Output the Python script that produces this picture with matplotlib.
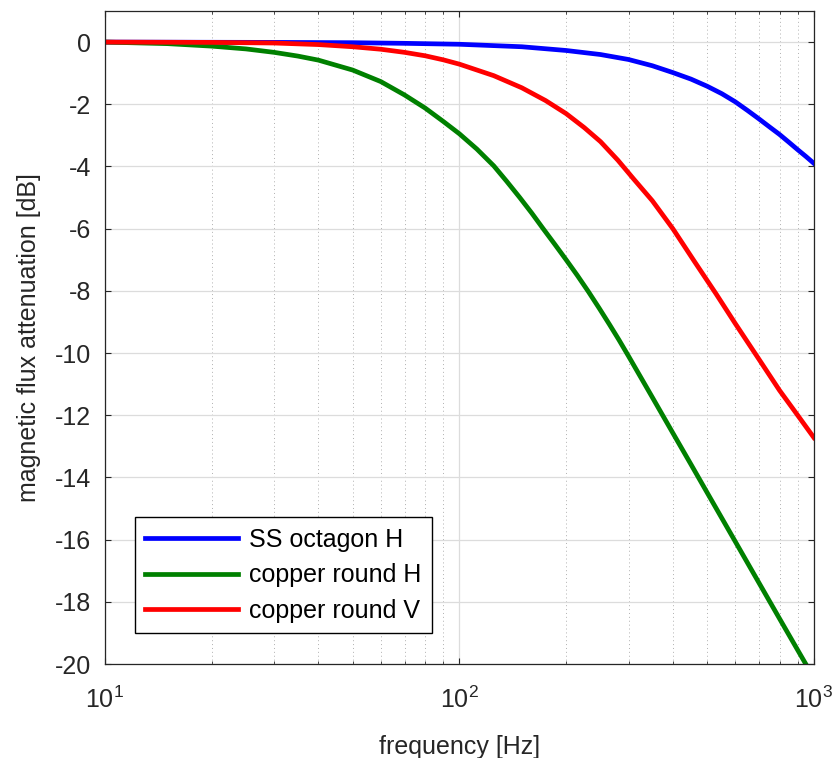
import matplotlib
matplotlib.use("Agg")
import matplotlib.pyplot as plt
from matplotlib.ticker import LogLocator, NullFormatter, FixedLocator

plt.rcParams['font.family'] = ['Liberation Sans', 'DejaVu Sans']
plt.rcParams['mathtext.fontset'] = 'custom'
plt.rcParams['mathtext.rm'] = 'Liberation Sans'
plt.rcParams['mathtext.it'] = 'Liberation Sans'

# values
f_ss = [10, 30, 50, 70, 100, 150, 200, 250, 300, 350, 400, 450, 500, 550, 600, 650, 700, 750, 800, 850, 900, 950, 1000]
ss_octagon_h = [0, -0.01, -0.02, -0.04, -0.07, -0.15, -0.27, -0.4, -0.56, -0.76, -0.98, -1.19, -1.42, -1.66, -1.92,
                -2.2, -2.47, -2.73, -2.97, -3.22, -3.46, -3.68, -3.9]

f_cu_h = [10, 15, 20, 25, 30, 35, 40, 50, 60, 70, 80, 90, 100, 112, 125, 136, 148, 160, 172, 186, 200, 215, 231,
          248, 265, 282, 300, 350, 400, 450, 500, 600, 700, 800, 900, 1000]
copper_round_h = [0, -0.05, -0.13, -0.22, -0.33, -0.45, -0.58, -0.9, -1.27, -1.7, -2.12, -2.55, -2.95, -3.44, -3.98,
                  -4.48, -5.0, -5.5, -5.99, -6.51, -7.0, -7.5, -8.02, -8.56, -9.08, -9.58, -10.1, -11.42, -12.57,
                  -13.58, -14.49, -16.06, -17.39, -18.54, -19.55, -20.45]

f_cu_v = [10, 20, 30, 40, 50, 60, 70, 80, 90, 100, 125, 150, 175, 200, 225, 250, 280, 310, 350, 400, 460, 530,
          600, 700, 800, 900, 1000]
copper_round_v = [0, -0.01, -0.03, -0.08, -0.15, -0.23, -0.33, -0.44, -0.57, -0.71, -1.08, -1.47, -1.88, -2.3, -2.75,
                  -3.2, -3.8, -4.4, -5.1, -6.0, -7.05, -8.1, -9.05, -10.2, -11.2, -12.0, -12.72]

labels = ['SS octagon H', 'copper round H', 'copper round V']
colors = ['#0000ff', '#008000', '#ff0000']
y_ticks = list(range(-20, 1, 2))

fig = plt.figure(figsize=(8.35, 7.58), dpi=100)
ax = fig.add_axes([0.1257, 0.124, 0.849, 0.8615])

ax.plot(f_ss, ss_octagon_h, color=colors[0], lw=3.4, label=labels[0])
ax.plot(f_cu_h, copper_round_h, color=colors[1], lw=3.4, label=labels[1])
ax.plot(f_cu_v, copper_round_v, color=colors[2], lw=3.4, label=labels[2])

ax.set_xscale('log')
ax.set_xlim(10, 1000)
ax.set_ylim(-20, 1)
ax.set_yticks(y_ticks)
ax.set_yticklabels([str(t) for t in y_ticks])
ax.xaxis.set_major_locator(FixedLocator([10, 100, 1000]))
ax.xaxis.set_minor_locator(LogLocator(base=10, subs=range(2, 10)))
ax.xaxis.set_minor_formatter(NullFormatter())

ax.grid(True, which='major', color='#dcdcdc', lw=0.9)
ax.grid(True, which='minor', axis='x', color='#b0b0b0', lw=0.7, ls=(0, (1, 3)))
ax.set_axisbelow(True)

for s in ax.spines.values():
    s.set_color('#262626')
    s.set_linewidth(0.9)
ax.tick_params(which='both', direction='in', top=True, right=True, colors='#262626', labelsize=18)
ax.tick_params(which='major', length=4.5, width=0.8)
ax.tick_params(which='minor', length=2.5, width=0.6)
ax.tick_params(axis='y', pad=10)
ax.tick_params(axis='x', pad=16)

ax.set_xlabel('frequency [Hz]', fontsize=18, color='#262626', labelpad=16)
ax.set_ylabel('magnetic flux attenuation [dB]', fontsize=18, color='#262626', labelpad=10)

leg = ax.legend(loc='lower left', bbox_to_anchor=(0.042, 0.047), borderaxespad=0,
                fontsize=18, handlelength=3.7, handletextpad=0.45, labelspacing=0.46,
                fancybox=False, framealpha=1, edgecolor='black', borderpad=0.42)
leg.get_frame().set_linewidth(1.0)

fig.savefig('out.png', dpi=100)
